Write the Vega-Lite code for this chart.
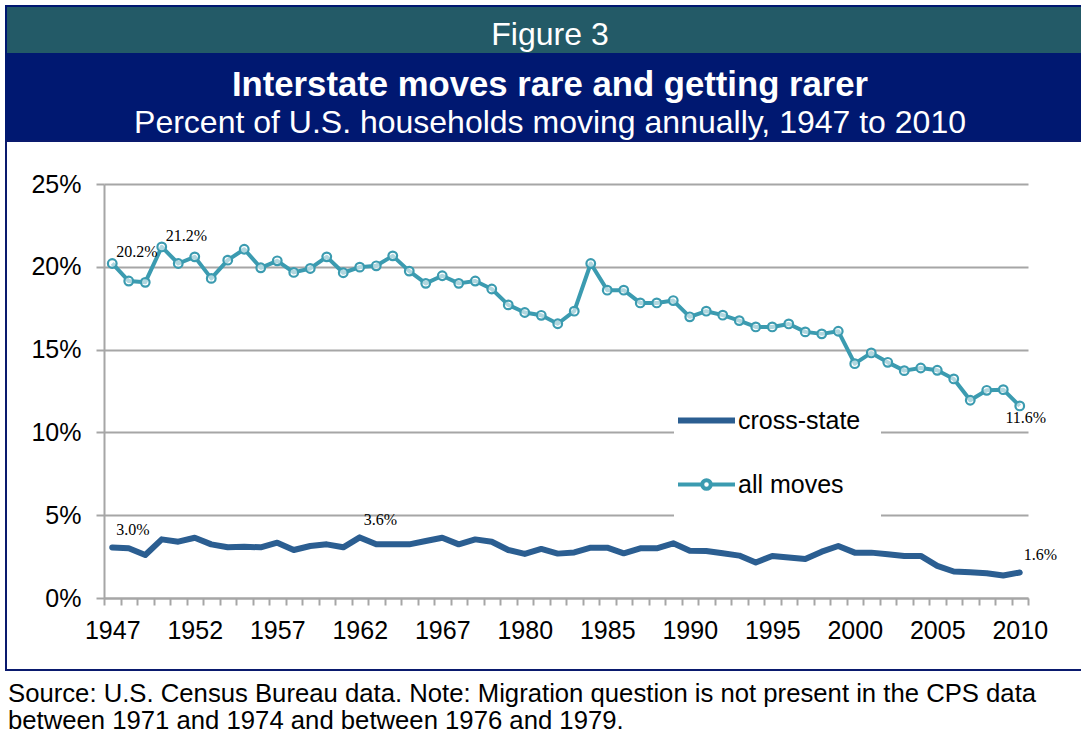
{
  "$schema": "https://vega.github.io/schema/vega-lite/v6.json",
  "background": "white",
  "padding": {"left": 5, "top": 5, "right": 0, "bottom": 0},
  "spacing": 0,
  "bounds": "flush",
  "title": {
    "text": ["Source: U.S. Census Bureau data. Note: Migration question is not present in the CPS data", "between 1971 and 1974 and between 1976 and 1979."],
    "orient": "bottom", "anchor": "start", "font": "Liberation Sans", "fontSize": 25.7, "fontWeight": "normal",
    "color": "#000000", "lineHeight": 27, "offset": 11, "dx": 3
  },
  "datasets": {
    "moves": [
      {"year": 1947, "series": "all moves", "value": 20.2, "label": "20.2%"},
      {"year": 1948, "series": "all moves", "value": 19.14},
      {"year": 1949, "series": "all moves", "value": 19.06},
      {"year": 1950, "series": "all moves", "value": 21.2, "label": "21.2%"},
      {"year": 1951, "series": "all moves", "value": 20.2},
      {"year": 1952, "series": "all moves", "value": 20.6},
      {"year": 1953, "series": "all moves", "value": 19.3},
      {"year": 1954, "series": "all moves", "value": 20.4},
      {"year": 1955, "series": "all moves", "value": 21.06},
      {"year": 1956, "series": "all moves", "value": 19.94},
      {"year": 1957, "series": "all moves", "value": 20.36},
      {"year": 1958, "series": "all moves", "value": 19.66},
      {"year": 1959, "series": "all moves", "value": 19.9},
      {"year": 1960, "series": "all moves", "value": 20.6},
      {"year": 1961, "series": "all moves", "value": 19.64},
      {"year": 1962, "series": "all moves", "value": 19.98},
      {"year": 1963, "series": "all moves", "value": 20.06},
      {"year": 1964, "series": "all moves", "value": 20.66},
      {"year": 1965, "series": "all moves", "value": 19.74},
      {"year": 1966, "series": "all moves", "value": 19.0},
      {"year": 1967, "series": "all moves", "value": 19.46},
      {"year": 1968, "series": "all moves", "value": 19.0},
      {"year": 1969, "series": "all moves", "value": 19.14},
      {"year": 1970, "series": "all moves", "value": 18.66},
      {"year": 1975, "series": "all moves", "value": 17.7},
      {"year": 1980, "series": "all moves", "value": 17.24},
      {"year": 1981, "series": "all moves", "value": 17.07},
      {"year": 1982, "series": "all moves", "value": 16.56},
      {"year": 1983, "series": "all moves", "value": 17.32},
      {"year": 1984, "series": "all moves", "value": 20.2},
      {"year": 1985, "series": "all moves", "value": 18.59},
      {"year": 1986, "series": "all moves", "value": 18.59},
      {"year": 1987, "series": "all moves", "value": 17.82},
      {"year": 1988, "series": "all moves", "value": 17.82},
      {"year": 1989, "series": "all moves", "value": 17.96},
      {"year": 1990, "series": "all moves", "value": 16.98},
      {"year": 1991, "series": "all moves", "value": 17.32},
      {"year": 1992, "series": "all moves", "value": 17.08},
      {"year": 1993, "series": "all moves", "value": 16.75},
      {"year": 1994, "series": "all moves", "value": 16.37},
      {"year": 1995, "series": "all moves", "value": 16.37},
      {"year": 1996, "series": "all moves", "value": 16.55},
      {"year": 1997, "series": "all moves", "value": 16.07},
      {"year": 1998, "series": "all moves", "value": 15.95},
      {"year": 1999, "series": "all moves", "value": 16.11},
      {"year": 2000, "series": "all moves", "value": 14.15},
      {"year": 2001, "series": "all moves", "value": 14.8},
      {"year": 2002, "series": "all moves", "value": 14.23},
      {"year": 2003, "series": "all moves", "value": 13.73},
      {"year": 2004, "series": "all moves", "value": 13.89},
      {"year": 2005, "series": "all moves", "value": 13.75},
      {"year": 2006, "series": "all moves", "value": 13.23},
      {"year": 2007, "series": "all moves", "value": 11.94},
      {"year": 2008, "series": "all moves", "value": 12.54},
      {"year": 2009, "series": "all moves", "value": 12.58},
      {"year": 2010, "series": "all moves", "value": 11.6, "label": "11.6%"},
      {"year": 1947, "series": "cross-state", "value": 3.05, "label": "3.0%"},
      {"year": 1948, "series": "cross-state", "value": 3.0},
      {"year": 1949, "series": "cross-state", "value": 2.6},
      {"year": 1950, "series": "cross-state", "value": 3.54},
      {"year": 1951, "series": "cross-state", "value": 3.4},
      {"year": 1952, "series": "cross-state", "value": 3.64},
      {"year": 1953, "series": "cross-state", "value": 3.24},
      {"year": 1954, "series": "cross-state", "value": 3.06},
      {"year": 1955, "series": "cross-state", "value": 3.1},
      {"year": 1956, "series": "cross-state", "value": 3.06},
      {"year": 1957, "series": "cross-state", "value": 3.34},
      {"year": 1958, "series": "cross-state", "value": 2.9},
      {"year": 1959, "series": "cross-state", "value": 3.14},
      {"year": 1960, "series": "cross-state", "value": 3.24},
      {"year": 1961, "series": "cross-state", "value": 3.06},
      {"year": 1962, "series": "cross-state", "value": 3.66, "label": "3.6%"},
      {"year": 1963, "series": "cross-state", "value": 3.24},
      {"year": 1964, "series": "cross-state", "value": 3.24},
      {"year": 1965, "series": "cross-state", "value": 3.24},
      {"year": 1966, "series": "cross-state", "value": 3.44},
      {"year": 1967, "series": "cross-state", "value": 3.64},
      {"year": 1968, "series": "cross-state", "value": 3.24},
      {"year": 1969, "series": "cross-state", "value": 3.54},
      {"year": 1970, "series": "cross-state", "value": 3.4},
      {"year": 1975, "series": "cross-state", "value": 2.9},
      {"year": 1980, "series": "cross-state", "value": 2.66},
      {"year": 1981, "series": "cross-state", "value": 2.96},
      {"year": 1982, "series": "cross-state", "value": 2.68},
      {"year": 1983, "series": "cross-state", "value": 2.75},
      {"year": 1984, "series": "cross-state", "value": 3.04},
      {"year": 1985, "series": "cross-state", "value": 3.04},
      {"year": 1986, "series": "cross-state", "value": 2.7},
      {"year": 1987, "series": "cross-state", "value": 3.0},
      {"year": 1988, "series": "cross-state", "value": 3.0},
      {"year": 1989, "series": "cross-state", "value": 3.3},
      {"year": 1990, "series": "cross-state", "value": 2.86},
      {"year": 1991, "series": "cross-state", "value": 2.84},
      {"year": 1992, "series": "cross-state", "value": 2.7},
      {"year": 1993, "series": "cross-state", "value": 2.56},
      {"year": 1994, "series": "cross-state", "value": 2.14},
      {"year": 1995, "series": "cross-state", "value": 2.54},
      {"year": 1996, "series": "cross-state", "value": 2.44},
      {"year": 1997, "series": "cross-state", "value": 2.36},
      {"year": 1998, "series": "cross-state", "value": 2.8},
      {"year": 1999, "series": "cross-state", "value": 3.14},
      {"year": 2000, "series": "cross-state", "value": 2.74},
      {"year": 2001, "series": "cross-state", "value": 2.74},
      {"year": 2002, "series": "cross-state", "value": 2.64},
      {"year": 2003, "series": "cross-state", "value": 2.54},
      {"year": 2004, "series": "cross-state", "value": 2.54},
      {"year": 2005, "series": "cross-state", "value": 1.94},
      {"year": 2006, "series": "cross-state", "value": 1.6},
      {"year": 2007, "series": "cross-state", "value": 1.56},
      {"year": 2008, "series": "cross-state", "value": 1.5},
      {"year": 2009, "series": "cross-state", "value": 1.36},
      {"year": 2010, "series": "cross-state", "value": 1.54, "label": "1.6%"}
    ]
  },
  "vconcat": [
    {
      "width": 1076,
      "height": 48,
      "view": {"fill": "#235a67", "stroke": "#001871", "strokeWidth": 2},
      "data": {"values": [{"t": "Figure 3"}]},
      "mark": {"type": "text", "font": "Liberation Sans", "fontSize": 32, "color": "#ffffff", "align": "center", "baseline": "alphabetic", "dx": 6, "dy": 14.5},
      "encoding": {"text": {"field": "t", "type": "nominal"}}
    },
    {
      "width": 1076,
      "height": 87,
      "view": {"fill": "#001871", "stroke": "#001871", "strokeWidth": 2},
      "layer": [
        {
          "data": {"values": [{"t": "Interstate moves rare and getting rarer"}]},
          "mark": {"type": "text", "font": "Liberation Sans", "fontSize": 34.7, "fontWeight": "bold", "color": "#ffffff", "align": "center", "baseline": "alphabetic", "dx": 6, "dy": -1.5},
          "encoding": {"text": {"field": "t", "type": "nominal"}}
        },
        {
          "data": {"values": [{"t": "Percent of U.S. households moving annually, 1947 to 2010"}]},
          "mark": {"type": "text", "font": "Liberation Sans", "fontSize": 32, "color": "#ffffff", "align": "center", "baseline": "alphabetic", "dx": 6, "dy": 35},
          "encoding": {"text": {"field": "t", "type": "nominal"}}
        }
      ]
    },
    {
      "width": 1076,
      "height": 529,
      "view": {"fill": "#ffffff", "stroke": "#0a1a6e", "strokeWidth": 2},
      "data": {"name": "moves"},
      "encoding": {
        "x": {
          "field": "year", "type": "ordinal", "bandPosition": 0.5,
          "scale": {"type": "band", "paddingInner": 0, "paddingOuter": 0, "range": [98, 1022]},
          "axis": {
            "title": null, "orient": "bottom", "offset": -72, "labelAngle": 0,
            "labelExpr": "indexof([1947,1952,1957,1962,1967,1980,1985,1990,1995,2000,2005,2010], datum.value) >= 0 ? datum.label : ''",
            "labelFont": "Liberation Sans", "labelFontSize": 25, "labelColor": "#000000", "labelPadding": 13,
            "labelOverlap": false, "labelFlush": false, "tickBand": "extent", "tickSize": 7, "tickColor": "#a6a6a6", "tickWidth": 2,
            "domainColor": "#a6a6a6", "domainWidth": 2, "grid": false
          }
        },
        "y": {
          "field": "value", "type": "quantitative",
          "scale": {"domain": [0, 25], "range": [457, 43], "nice": false},
          "axis": {
            "title": null, "orient": "left", "offset": -98, "values": [0, 5, 10, 15, 20, 25],
            "labelExpr": "datum.value + '%'", "labelFont": "Liberation Sans", "labelFontSize": 25, "labelColor": "#000000",
            "labelPadding": 15, "tickSize": 8, "tickColor": "#a6a6a6", "tickWidth": 2,
            "domainColor": "#a6a6a6", "domainWidth": 2, "grid": true, "gridColor": "#a6a6a6", "gridWidth": 2
          }
        }
      },
      "layer": [
        {
          "transform": [{"filter": "datum.series === 'cross-state'"}],
          "mark": {"type": "line", "strokeWidth": 6, "strokeJoin": "round", "strokeCap": "round"},
          "encoding": {
            "color": {
              "field": "series", "type": "nominal",
              "scale": {"domain": ["cross-state", "all moves"], "range": ["#2b5e91", "#3b9bb0"]},
              "legend": {
                "title": null, "orient": "none", "legendX": 668, "legendY": 382, "fillColor": "#ffffff", "padding": 20,
                "labelFont": "Liberation Sans", "labelFontSize": 25, "labelColor": "#000000", "labelOffset": 19,
                "symbolSize": 3249, "symbolStrokeWidth": 6, "rowPadding": 38,
                "encode": {
                  "symbols": {
                    "update": {
                      "shape": {"signal": "datum.value === 'all moves' ? 'M-1,0H-0.15M0.15,0H1M-0.15,0A0.15,0.15 0 1,1 0.15,0A0.15,0.15 0 1,1 -0.15,0' : 'M-1,0H1'"},
                      "strokeWidth": {"signal": "datum.value === 'all moves' ? 4 : 6"},
                      "fill": {"value": "transparent"}
                    }
                  }
                }
              }
            }
          }
        },
        {
          "transform": [{"filter": "datum.series === 'all moves'"}],
          "mark": {"type": "line", "strokeWidth": 4, "strokeJoin": "round"},
          "encoding": {"color": {"field": "series", "type": "nominal"}}
        },
        {
          "transform": [{"filter": "datum.series === 'all moves'"}],
          "mark": {"type": "point", "shape": "circle", "filled": false, "fill": "#ffffff", "fillOpacity": 0.6, "stroke": "#3b9bb0", "strokeWidth": 2.2, "size": 75, "opacity": 1}
        },
        {
          "transform": [{"filter": "datum.series === 'all moves' && datum.year < 2000 && datum.label"}],
          "mark": {"type": "text", "font": "Liberation Serif", "fontSize": 16, "color": "#000000", "align": "left", "baseline": "alphabetic", "dx": 4, "dy": -6},
          "encoding": {"text": {"field": "label", "type": "nominal"}}
        },
        {
          "transform": [{"filter": "datum.series === 'all moves' && datum.year === 2010"}],
          "mark": {"type": "text", "font": "Liberation Serif", "fontSize": 16, "color": "#000000", "align": "center", "baseline": "alphabetic", "dx": 6, "dy": 17},
          "encoding": {"text": {"field": "label", "type": "nominal"}}
        },
        {
          "transform": [{"filter": "datum.series === 'cross-state' && datum.label"}],
          "mark": {"type": "text", "font": "Liberation Serif", "fontSize": 16, "color": "#000000", "align": "left", "baseline": "alphabetic", "dx": 4, "dy": -12},
          "encoding": {"text": {"field": "label", "type": "nominal"}}
        }
      ]
    }
  ]
}
